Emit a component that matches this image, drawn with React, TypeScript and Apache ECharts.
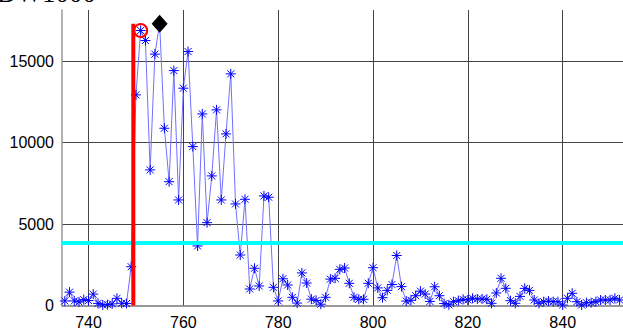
import React, { useEffect, useRef } from "react";
import * as echarts from "echarts";

// sample index (x) and amplitude (y)
const sampleIdx = [
  735, 736, 737, 738, 739, 740, 741, 742, 743, 744, 745, 746, 747, 748, 749,
  750, 751, 752, 753, 754, 755, 756, 757, 758, 759, 760, 761, 762, 763, 764,
  765, 766, 767, 768, 769, 770, 771, 772, 773, 774, 775, 776, 777, 778, 779,
  780, 781, 782, 783, 784, 785, 786, 787, 788, 789, 790, 791, 792, 793, 794,
  795, 796, 797, 798, 799, 800, 801, 802, 803, 804, 805, 806, 807, 808, 809,
  810, 811, 812, 813, 814, 815, 816, 817, 818, 819, 820, 821, 822, 823, 824,
  825, 826, 827, 828, 829, 830, 831, 832, 833, 834, 835, 836, 837, 838, 839,
  840, 841, 842, 843, 844, 845, 846, 847, 848, 849, 850, 851, 852,
];
const amplitude = [
  280, 820, 280, 220, 360, 300, 700, 130, 40, 50, 100, 440, 140, 120, 2380,
  12930, 16880, 16265, 8323, 15430, 17290, 10880, 7600, 14420, 6480, 13340, 15590, 9755, 3655, 11760,
  5086, 7955, 12010, 6480, 10535, 14220, 6235, 3100, 6520, 1013, 2285, 1198, 6726, 6646, 1118,
  280, 1640, 1260, 503, 150, 2000, 1380, 390, 310, 80, 503, 1620, 1670, 2220, 2300,
  1363, 503, 380, 380, 1363, 2320, 1080, 480, 930, 1290, 3070, 1160, 270, 320, 600,
  880, 700, 250, 1150, 600, 120, 40, 233, 295, 380, 340, 442, 400, 400, 380,
  135, 770, 1670, 1055, 295, 135, 560, 1050, 930, 338, 135, 233, 270, 233, 233,
  30, 442, 750, 233, 30, 172, 172, 233, 338, 338, 338, 442, 338,
];

const firstPathX = 749.45; // red vertical marker
const firstPathTop = 17290;
const circlePoint = [751, 16880];
const peakPoint = [755, 17290];
const thresholdY = 3860; // cyan level

const xMin = 734.41;
const xMax = 852.72;
const yMin = 0;
const yMax = 18140;
const yTickStep = 5000;
const titleText = "DW1000";

const asterisk =
  "path://M0,5L10,5M5,0L5,10M1.5,1.5L8.5,8.5M8.5,1.5L1.5,8.5";

export default function App() {
  const ref = useRef<HTMLDivElement>(null);
  useEffect(() => {
    if (!ref.current) return;
    const chart = echarts.init(ref.current, undefined, { renderer: "svg" });
    const data = sampleIdx.map((x, i) => [x, amplitude[i]]);
    chart.setOption({
      animation: false,
      backgroundColor: "#fff",
      grid: { left: 62, top: 10, right: 0, bottom: 25.5, containLabel: false },
      graphic: [
        {
          type: "text",
          left: -3,
          top: -21,
          style: {
            text: titleText,
            font: '27px "Liberation Serif"',
            fill: "#000",
          },
        },
      ],
      xAxis: {
        type: "value",
        min: xMin,
        max: xMax,
        splitNumber: 5,
        axisLine: { show: true, onZero: false, lineStyle: { color: "#777", width: 1.5 } },
        axisTick: { show: false },
        axisLabel: {
          color: "#000",
          fontFamily: "Liberation Sans",
          fontSize: 16,
          margin: 9,
          showMinLabel: false,
          showMaxLabel: false,
          formatter: (v: number) => (Math.abs(v % 20) < 1e-6 ? String(v) : ""),
        },
        splitLine: {
          show: true,
          showMinLine: false,
          showMaxLine: false,
          lineStyle: { color: "#444", width: 1 },
        },
      },
      yAxis: {
        type: "value",
        min: yMin,
        max: yMax,
        interval: yTickStep,
        axisLine: { show: true, lineStyle: { color: "#999", width: 1.5 } },
        axisTick: { show: false },
        axisLabel: {
          color: "#000",
          fontFamily: "Liberation Sans",
          fontSize: 16,
          margin: 8,
          showMaxLabel: false,
          formatter: (v: number) => (v % yTickStep === 0 ? String(v) : ""),
        },
        splitLine: {
          show: true,
          showMinLine: false,
          showMaxLine: false,
          lineStyle: { color: "#444", width: 1 },
        },
      },
      series: [
        {
          type: "line",
          data,
          showAllSymbol: true,
          symbol: asterisk,
          symbolSize: 10,
          lineStyle: { color: "#7070ff", width: 1 },
          itemStyle: { color: "#0000ff", borderColor: "#0000ff", borderWidth: 1 },
          z: 2,
          markLine: {
            silent: true,
            symbol: "none",
            label: { show: false },
            lineStyle: { color: "#00ffff", width: 4, type: "solid" },
            data: [{ yAxis: thresholdY }],
            z: 3,
          },
        },
        {
          type: "line",
          data: [
            [firstPathX, 0],
            [firstPathX, firstPathTop],
          ],
          symbol: "none",
          lineStyle: { color: "#ff0000", width: 4 },
          z: 4,
        },
        {
          type: "scatter",
          data: [circlePoint],
          symbol: "circle",
          symbolSize: 13,
          itemStyle: { color: "rgba(0,0,0,0)", borderColor: "#ff0000", borderWidth: 2, opacity: 1 },
          z: 5,
        },
        {
          type: "scatter",
          data: [peakPoint],
          symbol: "diamond",
          symbolSize: [16, 18],
          itemStyle: { color: "#000", opacity: 1 },
          z: 5,
        },
      ],
    });
    return () => chart.dispose();
  }, []);
  return (
    <div
      ref={ref}
      style={{ position: "fixed", left: 0, top: 0, width: 623, height: 331 }}
    />
  );
}
